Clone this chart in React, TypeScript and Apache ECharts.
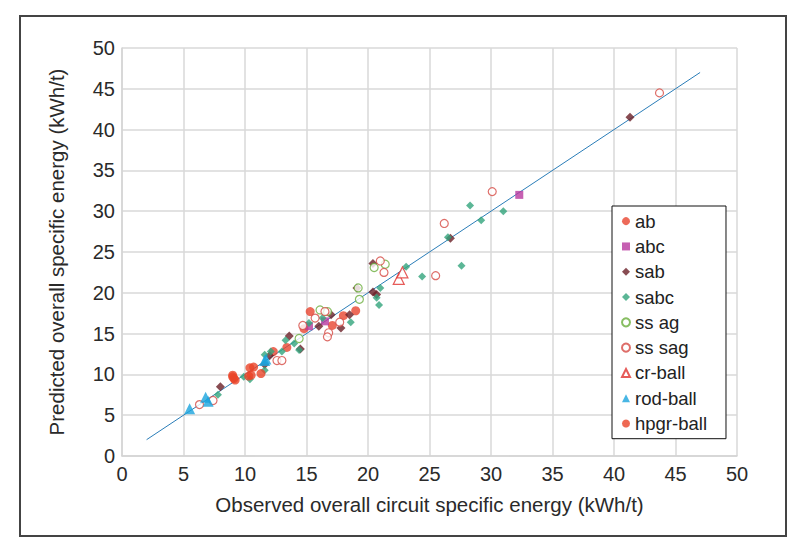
import React, { useEffect, useRef } from "react";
import * as echarts from "echarts";

const axisTicks = [0, 5, 10, 15, 20, 25, 30, 35, 40, 45, 50];
const fitLine = [[2, 2], [47, 47]];

const ab = [[15.3, 17.7], [19.0, 17.8], [18.0, 17.2], [17.1, 16.0], [14.8, 15.6], [13.4, 13.3], [12.3, 12.8]];
const abc = [[32.3, 32.0], [16.5, 16.5], [15.2, 15.9]];
const sab = [[41.3, 41.5], [26.7, 26.7], [20.4, 23.6], [20.4, 20.1], [20.7, 19.8], [19.1, 20.6], [18.5, 17.3], [17.8, 15.7], [17.0, 17.3], [16.0, 15.9], [14.5, 13.1], [13.6, 14.7], [12.0, 12.3], [11.6, 11.2], [8.0, 8.5]];
const sabc = [[28.3, 30.7], [29.2, 28.9], [31.0, 30.0], [26.5, 26.8], [27.6, 23.3], [24.4, 22.0], [23.1, 23.2], [21.0, 20.6], [20.7, 19.4], [20.9, 18.5], [18.6, 16.4], [16.3, 16.9], [15.2, 16.3], [14.4, 13.0], [14.0, 13.8], [13.3, 14.2], [13.0, 12.8], [12.1, 12.8], [11.6, 12.4], [11.6, 10.5], [10.4, 9.4], [9.9, 9.7], [7.8, 7.5]];
const ssAg = [[21.4, 23.5], [20.5, 23.1], [19.2, 20.6], [19.3, 19.2], [16.7, 17.7], [16.1, 17.9], [14.4, 14.4]];
const ssSag = [[43.7, 44.5], [30.1, 32.4], [26.2, 28.5], [25.5, 22.1], [21.0, 23.9], [21.3, 22.5], [17.7, 16.4], [16.8, 15.1], [16.7, 14.6], [16.5, 17.7], [15.7, 16.9], [14.7, 16.0], [12.6, 11.7], [13.0, 11.7], [7.4, 6.8], [6.3, 6.3]];
const crBall = [[22.5, 21.7], [22.8, 22.5]];
const rodBall = [[11.7, 11.9], [11.6, 11.7], [6.8, 7.2], [7.0, 6.7], [5.5, 5.8]];
const hpgrBall = [[11.3, 10.1], [10.7, 10.9], [10.4, 10.8], [10.5, 9.9], [10.3, 9.8], [9.2, 9.3], [9.0, 9.9], [9.1, 9.5], [9.0, 9.7]];

const FONT = "'Liberation Sans', Arial, Helvetica, sans-serif";

export default function App() {
  const ref = useRef<HTMLDivElement>(null);
  useEffect(() => {
    if (!ref.current) return;
    const chart = echarts.init(ref.current, null, { renderer: "svg" });
    const scatter = (name: string, data: number[][], symbol: string, size: number, color: string, hollow = false) => ({
      name,
      type: "scatter",
      data,
      symbol,
      symbolSize: size,
      z: 3,
      itemStyle: hollow
        ? { color: "#fff", borderColor: color, borderWidth: 1.2 }
        : { color, borderWidth: 0 },
    });
    const axisCommon = {
      type: "value",
      min: axisTicks[0],
      max: axisTicks[axisTicks.length - 1],
      interval: 5,
      axisLine: { show: true, lineStyle: { color: "#d4d4d4", width: 1.5 } },
      axisTick: { show: false },
      splitLine: { show: true, lineStyle: { color: "#d9d9d9", width: 1.5 } },
      axisLabel: { color: "#2a2a2a", fontSize: 20, fontFamily: FONT },
      nameTextStyle: { color: "#2a2a2a", fontSize: 20.5, fontFamily: FONT },
      nameLocation: "middle",
    };
    chart.setOption({
      animation: false,
      backgroundColor: "#fff",
      textStyle: { fontFamily: FONT },
      grid: { left: 122, top: 48, right: 64, bottom: 90 },
      xAxis: {
        ...axisCommon,
        name: "Observed overall circuit specific energy (kWh/t)",
        nameGap: 38,
        axisLabel: { ...axisCommon.axisLabel, margin: 8 },
      },
      yAxis: {
        ...axisCommon,
        name: "Predicted overall specific energy (kWh/t)",
        nameGap: 55,
        axisLabel: { ...axisCommon.axisLabel, margin: 7 },
      },
      legend: {
        orient: "vertical",
        left: 612,
        top: 206,
        backgroundColor: "#fff",
        borderColor: "#111",
        borderWidth: 1,
        borderRadius: 0,
        padding: [5, 19, 5, 9],
        itemWidth: 8,
        itemHeight: 8,
        itemGap: 5,
        textStyle: { color: "#222", fontSize: 18.5, fontFamily: FONT, lineHeight: 20.3 },
        data: ["ab", "abc", "sab", "sabc", "ss ag", "ss sag", "cr-ball", "rod-ball", "hpgr-ball"],
      },
      graphic: [
        {
          type: "rect",
          shape: { x: 20, y: 16, width: 766, height: 520 },
          style: { fill: "none", stroke: "#444", lineWidth: 2 },
          silent: true,
        },
      ],
      series: [
        {
          name: "fit",
          type: "line",
          data: fitLine,
          symbol: "none",
          z: 2,
          lineStyle: { color: "#2a7db8", width: 1 },
        },
        scatter("ab", ab, "circle", 9, "#e8452f"),
        scatter("abc", abc, "rect", 8, "#b8389f"),
        scatter("sab", sab, "diamond", 9, "#6a1f27"),
        scatter("sabc", sabc, "diamond", 8, "#32a47c"),
        scatter("ss ag", ssAg, "circle", 8, "#6aae3c", true),
        scatter("ss sag", ssSag, "circle", 8, "#d64a43", true),
        scatter("cr-ball", crBall, "triangle", 11, "#e0322f", true),
        scatter("rod-ball", rodBall, "triangle", 11, "#1aa4dd"),
        scatter("hpgr-ball", hpgrBall, "circle", 9, "#ea4428"),
      ],
    });
    return () => chart.dispose();
  }, []);
  return (
    <div
      ref={ref}
      style={{ position: "absolute", left: 0, top: 0, width: 801, height: 546 }}
    />
  );
}
